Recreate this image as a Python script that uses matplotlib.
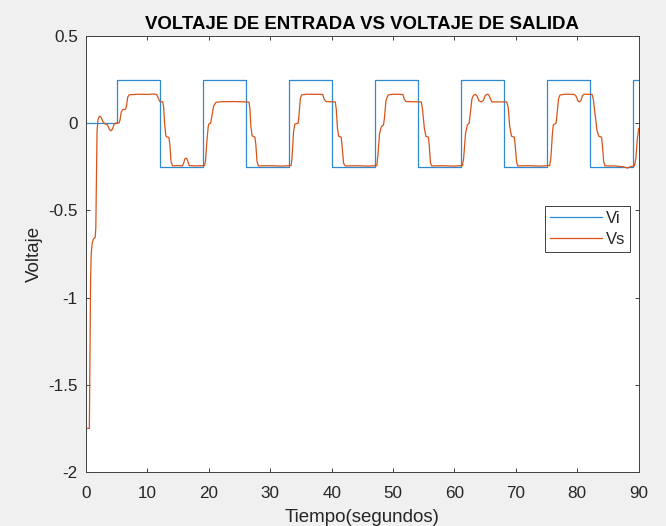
import matplotlib
matplotlib.use("Agg")
import matplotlib.pyplot as plt

plt.rcParams['font.family'] = ['Liberation Sans', 'DejaVu Sans']

# ---- data ----
vi_t = [0, 5, 12, 19, 26, 33, 40, 47, 54, 61, 68, 75, 82, 89, 90]
vi_v = [0, 0.25, -0.25, 0.25, -0.25, 0.25, -0.25, 0.25, -0.25, 0.25, -0.25, 0.25, -0.25, 0.25, 0.25]

vs_t = [0, 0.55, 0.65, 0.75, 0.85, 1.0, 1.2, 1.5, 1.6, 1.7, 1.8, 1.95, 2.2, 2.45, 2.8, 3.2, 3.5,
        3.8, 4.05, 4.3, 4.6, 4.8, 5.4, 5.55, 5.75, 6.0, 6.45, 6.6, 6.8, 7.05, 8, 9, 10, 11, 11.5,
        11.7, 12.0, 12.5, 12.65, 12.8, 13.0, 13.1, 13.5, 13.65, 13.85, 14.1, 15.0, 15.7, 15.9,
        16.1, 16.35, 16.55, 16.8, 18, 19.3, 19.45, 19.7, 19.9, 20.0, 20.3, 20.5, 20.8, 21.2, 22,
        24, 26, 26.55, 26.7, 26.85, 27.05, 27.2, 27.5, 27.65, 27.85, 28.07, 30, 32, 33.4,
        33.55, 33.8, 34.0, 34.55, 34.7, 34.9, 35.1, 36, 38.55, 38.75, 39.1, 40.6, 40.75, 40.95,
        41.15, 41.55, 41.7, 41.95, 42.2, 44, 46, 47.35,
        47.55, 47.8, 48.1, 48.45, 48.6, 48.85, 49.2, 50, 51.6, 51.8, 52.1, 54.6, 54.8, 55.1,
        55.35, 55.75, 55.9, 56.1, 56.3, 58, 60, 61.3,
        61.5, 61.8, 62.1, 62.4, 62.6, 62.85, 63.1, 63.4, 63.7, 64.0, 64.35, 64.7, 65.0, 65.3,
        65.55, 65.8, 66.1, 68.5, 68.75, 69.0, 69.3, 69.75, 69.9, 70.1, 70.3, 72, 74, 75.5,
        75.7, 75.95, 76.1, 76.55, 76.7, 76.95, 77.2, 78, 79.5, 79.8, 80.1, 80.35, 80.6, 80.85,
        81.1, 82.4, 82.6, 82.9, 83.2, 83.5, 83.95, 84.1, 84.3, 84.5, 86, 87.5, 88.2, 88.6,
        89.3, 89.55, 89.75, 90]
vs_v = [-1.75, -1.75, -1.3, -0.9, -0.75, -0.69, -0.665, -0.655, -0.6, -0.3, -0.05, 0.02, 0.04,
        0.035, 0.005, -0.005, -0.01, -0.035, -0.044, -0.035, -0.005, 0.0, 0.002, 0.02, 0.065,
        0.078, 0.08, 0.1, 0.15, 0.163, 0.165, 0.166, 0.165, 0.167, 0.165,
        0.15, 0.125, 0.122, 0.09, 0.0, -0.07, -0.078, -0.082, -0.12, -0.22, -0.245, -0.243,
        -0.245, -0.23, -0.205, -0.2, -0.215, -0.243, -0.245, -0.243, -0.22, -0.1, -0.02,
        -0.005, 0.0, 0.04, 0.1, 0.12, 0.123,
        0.124, 0.122, 0.12, 0.08, -0.02, -0.07, -0.076, -0.08, -0.12, -0.22, -0.245, -0.244,
        -0.246, -0.243,
        -0.2, -0.05, -0.005, 0.0, 0.05, 0.14, 0.162, 0.166, 0.165, 0.14, 0.124, 0.122, 0.08,
        -0.03, -0.075, -0.08, -0.13, -0.23, -0.245, -0.244, -0.246, -0.243,
        -0.18, -0.06, -0.02, -0.01, 0.03, 0.13, 0.162, 0.166, 0.165, 0.14, 0.124, 0.122, 0.08,
        -0.03, -0.075, -0.08, -0.13, -0.23, -0.245, -0.244, -0.246, -0.243,
        -0.2, -0.06, -0.01, 0.0, 0.06, 0.14, 0.16, 0.165, 0.155, 0.128, 0.122, 0.13, 0.158,
        0.166, 0.164, 0.145, 0.122, 0.122, 0.09, -0.02, -0.075, -0.08, -0.13, -0.22, -0.245,
        -0.244, -0.246, -0.243,
        -0.2, -0.06, -0.01, 0.0, 0.05, 0.14, 0.162, 0.166, 0.165, 0.155, 0.128, 0.122, 0.13,
        0.158, 0.166, 0.165, 0.14, 0.05, -0.04, -0.075, -0.08, -0.13, -0.22, -0.245, -0.245,
        -0.25, -0.258, -0.25, -0.245, -0.2, -0.1, -0.03]

x_ticks = [0, 10, 20, 30, 40, 50, 60, 70, 80, 90]
x_ticklabels = ['0', '10', '20', '30', '40', '50', '60', '70', '80', '90']
y_ticks = [-2, -1.5, -1, -0.5, 0, 0.5]
y_ticklabels = ['-2', '-1.5', '-1', '-0.5', '0', '0.5']

title = 'VOLTAJE DE ENTRADA VS VOLTAJE DE SALIDA'
xlabel = 'Tiempo(segundos)'
ylabel = 'Voltaje'
labels = ['Vi', 'Vs']

# ---- figure ----
fig = plt.figure(figsize=(6.66, 5.26), dpi=100, facecolor='#f0f0f0')
ax = fig.add_axes([0.1291, 0.1027, 0.8299, 0.8289])
ax.set_facecolor('white')

ax.step(vi_t, vi_v, where='post', color='#2f8ad0', lw=0.9, label=labels[0])
ax.plot(vs_t, vs_v, color='#D95319', lw=0.9, label=labels[1])

ax.set_xlim(0, 90)
ax.set_ylim(-2, 0.5)
ax.set_xticks(x_ticks)
ax.set_xticklabels(x_ticklabels)
ax.set_yticks(y_ticks)
ax.set_yticklabels(y_ticklabels)

dark = '#262626'
for s in ax.spines.values():
    s.set_color('#404040')
    s.set_linewidth(0.7)
ax.tick_params(direction='in', length=2.8, width=0.7, color='#404040', labelcolor=dark,
               labelsize=12.3, top=True, right=True)
ax.tick_params(axis='x', pad=10)
ax.tick_params(axis='y', pad=6)

ax.set_title(title, fontsize=13.4, fontweight='bold', color='black', pad=5)
ax.set_xlabel(xlabel, fontsize=13.5, color=dark, labelpad=6)
ax.set_ylabel(ylabel, fontsize=13.5, color=dark, labelpad=4)

leg = ax.legend(loc='upper right', bbox_to_anchor=(0.984, 0.610), borderaxespad=0,
                fontsize=12, fancybox=False, framealpha=1, edgecolor='#404040',
                handlelength=3.1, handletextpad=0.2, borderpad=0.3, labelspacing=0.35)
leg.get_frame().set_linewidth(0.7)
for t in leg.get_texts():
    t.set_color(dark)

fig.savefig('out.png', dpi=100, facecolor=fig.get_facecolor())
